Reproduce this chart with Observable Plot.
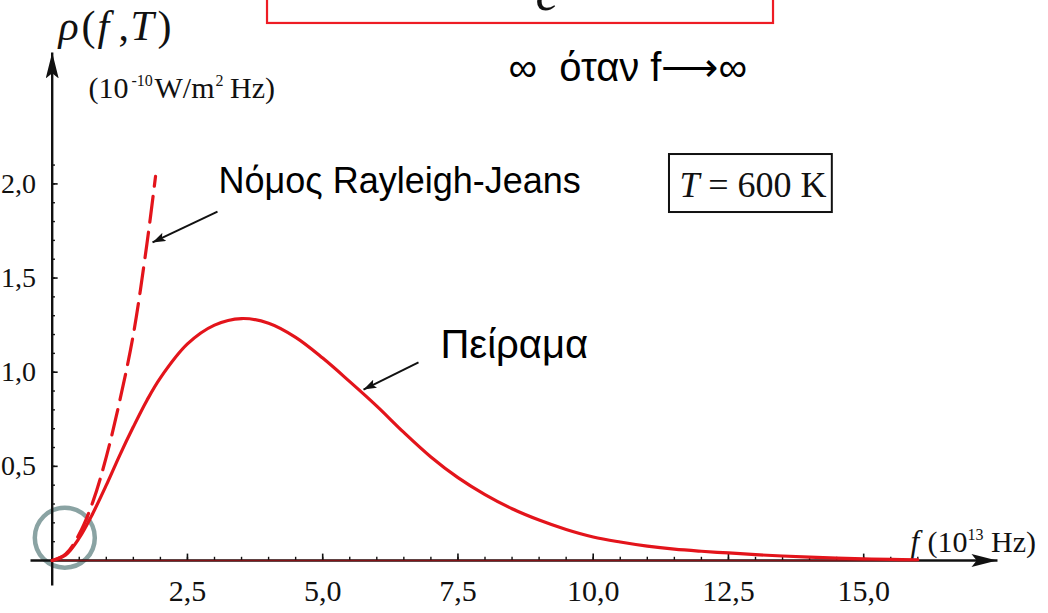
<!DOCTYPE html>
<html><head><meta charset="utf-8">
<script src="https://cdn.jsdelivr.net/npm/d3@7"></script>
<script src="https://cdn.jsdelivr.net/npm/@observablehq/plot@0.6"></script>
<style>html,body{margin:0;padding:0;background:#fff;overflow:hidden}</style>
</head><body><div id="chart"></div>
<script>
// ---- data ----
const expFreq = [0,0.25,0.5,0.75,1,1.25,1.5,1.75,2,2.5,3,3.5,4,4.5,5,5.5,6,6.5,7,7.5,8,8.5,9,9.5,10,10.5,11,11.5,12,12.5,13,13.5,14,14.5,15,15.5,16];
const expRho  = [0,0.03,0.12,0.25,0.40,0.56,0.71,0.85,0.97,1.15,1.25,1.285,1.26,1.185,1.075,0.95,0.82,0.68,0.55,0.44,0.35,0.275,0.215,0.165,0.125,0.098,0.076,0.06,0.049,0.04,0.031,0.024,0.018,0.013,0.009,0.006,0.004];
const rjFreq = [0,0.25,0.5,0.75,1,1.25,1.5,1.75,1.91];
const rjRho  = [0,0.035,0.14,0.31,0.55,0.85,1.2,1.68,2.04];
const xTickValues = [2.5,5,7.5,10,12.5,15];
const xTickLabels = ["2,5","5,0","7,5","10,0","12,5","15,0"];
const yTickValues = [0.5,1,1.5,2];
const yTickLabels = ["0,5","1,0","1,5","2,0"];
const xMinorTicks = d3.range(0.5, 16.01, 0.5);
const yMinorTicks = d3.range(0.1, 2.11, 0.1);

// pieces of the rich-text labels (text, horizontal offset in px, italic?, superscript?)
const rhoLabel = [
  {t: "ρ", dx: 0, it: true}, {t: "(", dx: 23, it: false}, {t: "f", dx: 39, it: true},
  {t: ",", dx: 60, it: false}, {t: "T", dx: 72, it: true}, {t: ")", dx: 99, it: false}
];
const unitLabel = [
  {t: "(10", dx: 0, sup: false}, {t: "-10", dx: 43, sup: true}, {t: "W/m", dx: 66, sup: false},
  {t: "2", dx: 127, sup: true}, {t: " Hz)", dx: 134, sup: false}
];
const xAxisLabel = [
  {t: "(10", dx: 0, sup: false}, {t: "13", dx: 40, sup: true}, {t: " Hz)", dx: 56, sup: false}
];

const serif = "'Liberation Serif','Times New Roman',Times,serif";
const sans = "'Liberation Sans',Arial,Helvetica,sans-serif";
const red = "#e3141b";
const ink = "#111";

function headMarker(len, hw) {
  return (color) => {
    const m = d3.create("svg:marker")
      .attr("viewBox", `${-len} ${-hw} ${len} ${2 * hw}`)
      .attr("markerWidth", len).attr("markerHeight", 2 * hw)
      .attr("markerUnits", "userSpaceOnUse").attr("orient", "auto")
      .attr("fill", color).attr("stroke", "none");
    m.append("path").attr("d", `M0,0L${-len},${-hw}L${-0.8 * len},0L${-len},${hw}Z`);
    return m.node();
  };
}

function richText(pieces, x, y, size, supSize, opts = {}) {
  const marks = [];
  for (const p of pieces) {
    marks.push(Plot.text([p.t], {
      x, y, text: d => d, dx: p.dx, dy: p.sup ? -Math.round(size * 0.4) : 0,
      textAnchor: "start", lineAnchor: "bottom", fontFamily: serif,
      fontStyle: p.it ? "italic" : "normal", fontSize: p.sup ? supSize : size, fill: ink, ...opts
    }));
  }
  return marks;
}

function build(useCustom) {
  const bigHead = useCustom ? headMarker(26, 6.5) : "arrow";
  const smallHead = useCustom ? headMarker(13, 4.5) : "arrow";
  return Plot.plot({
    width: 1048, height: 613,
    marginLeft: 51.7, marginRight: 22.5, marginTop: 0, marginBottom: 53,
    x: {domain: [0, 18], axis: null},
    y: {domain: [0, 560 / 188.3], axis: null},
    style: {background: "white"},
    marks: [
      // red box (cut off formula) at top
      Plot.rect([0], {x1: 3.98, x2: 13.333, y1: 2.852, y2: 3.4, stroke: "#ee1c24", strokeWidth: 2.2, fill: "none"}),
      Plot.text(["c"], {x: 8.933, y: 2.926, text: d => d, textAnchor: "start", lineAnchor: "bottom", fontFamily: serif, fontStyle: "italic", fontSize: 52, fill: ink}),
      Plot.text(["∞  όταν f⟶∞"], {x: 8.434, y: 2.549, text: d => d, textAnchor: "start", lineAnchor: "bottom", fontFamily: sans, fontSize: 40, fill: "#000"}),
      // axis titles
      ...richText(rhoLabel, 0.116, 2.7616, 42, 42),
      ...richText(unitLabel, 0.671, 2.454, 30, 16),
      Plot.text(["f"], {x: 15.865, y: 0.0425, text: d => d, textAnchor: "start", lineAnchor: "bottom", fontFamily: serif, fontStyle: "italic", fontSize: 31, fill: ink}),
      ...richText(xAxisLabel, 16.18, 0.0425, 30, 16),
      // T = 600 K box
      Plot.rect([0], {x1: 11.41, x2: 14.42, y1: 1.848, y2: 2.156, stroke: ink, strokeWidth: 2, fill: "white"}),
      Plot.text(["T"], {x: 11.595, y: 1.928, text: d => d, textAnchor: "start", lineAnchor: "bottom", fontFamily: serif, fontStyle: "italic", fontSize: 36, fill: ink}),
      Plot.text([" = 600 K"], {x: 14.312, y: 1.928, text: d => d, textAnchor: "end", lineAnchor: "bottom", fontFamily: serif, fontSize: 36, fill: ink}),
      // highlight circle at origin
      Plot.dot([0], {x: 0.233, y: 0.121, r: 30, stroke: "#8aa3a3", strokeWidth: 4.5, fill: "none"}),
      // axes
      Plot.link([0], {x1: 0, y1: -0.133, x2: 0, y2: 2.698, stroke: ink, strokeWidth: 2.4, markerEnd: bigHead}),
      Plot.link([0], {x1: -0.401, y1: 0, x2: 17.473, y2: 0, stroke: ink, strokeWidth: 2.4, markerEnd: bigHead}),
      Plot.ruleX(xMinorTicks, {x: d => d, y1: 0, y2: 0.017, stroke: ink, strokeWidth: 1.4}),
      Plot.ruleX(xTickValues, {x: d => d, y1: 0, y2: 0.034, stroke: ink, strokeWidth: 1.6}),
      Plot.ruleY(yMinorTicks, {y: d => d, x1: 0, x2: 0.06, stroke: ink, strokeWidth: 1.4}),
      Plot.ruleY(yTickValues, {y: d => d, x1: 0, x2: 0.11, stroke: ink, strokeWidth: 1.6}),
      Plot.text(xTickLabels, {x: xTickValues, y: 0, text: d => d, dy: 40, lineAnchor: "bottom", fontFamily: serif, fontSize: 30, fill: ink}),
      Plot.text(yTickLabels, {x: 0, y: yTickValues, text: d => d, textAnchor: "end", dx: -16.2, lineAnchor: "middle", fontFamily: serif, fontSize: 28, fill: ink}),
      // red baseline along the axis
      Plot.ruleY([0], {x1: 0, x2: 16, stroke: red, strokeWidth: 1.6, strokeOpacity: 0.55}),
      // curves
      Plot.line(rjFreq, {x: rjFreq, y: rjRho, stroke: red, strokeWidth: 3.2, strokeDasharray: "26,10", curve: "catmull-rom"}),
      Plot.line(expFreq, {x: expFreq, y: expRho, stroke: red, strokeWidth: 3.2, curve: "catmull-rom"}),
      // annotations
      Plot.text(["Νόμος Rayleigh-Jeans"], {x: 3.074, y: 1.954, text: d => d, textAnchor: "start", lineAnchor: "bottom", fontFamily: sans, fontSize: 36, fill: "#000"}),
      Plot.link([0], {x1: 3.055, y1: 1.853, x2: 1.854, y2: 1.689, stroke: ink, strokeWidth: 2, markerEnd: smallHead}),
      Plot.text(["Πείραμα"], {x: 7.177, y: 1.078, text: d => d, textAnchor: "start", lineAnchor: "bottom", fontFamily: sans, fontSize: 40, fill: "#000"}),
      Plot.link([0], {x1: 6.771, y1: 1.052, x2: 5.754, y2: 0.908, stroke: ink, strokeWidth: 2, markerEnd: smallHead})
    ]
  });
}

let chart;
try { chart = build(true); } catch (e) { chart = build(false); }
document.getElementById("chart").appendChild(chart);
</script>
</body></html>
